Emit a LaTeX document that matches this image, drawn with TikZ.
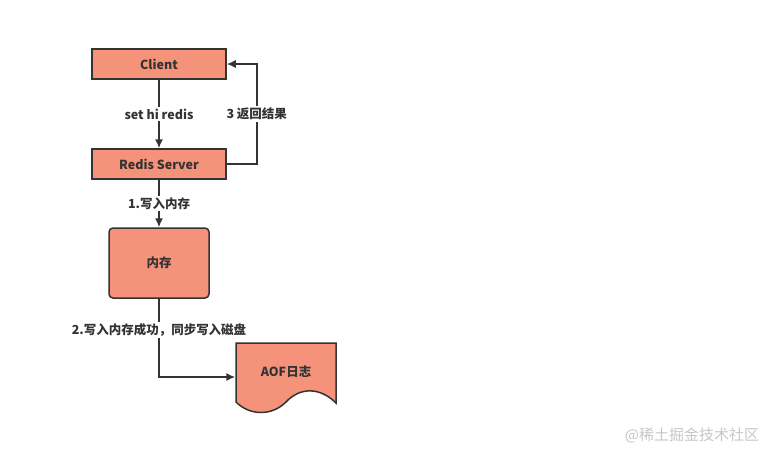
\documentclass[tikz,border=0pt]{standalone}
\usepackage{fontspec}
\setmainfont{Noto Sans CJK SC}
\usetikzlibrary{arrows.meta,positioning}
\definecolor{salmon}{HTML}{F4937A}
\definecolor{ink}{HTML}{333333}

\begin{document}
\begin{tikzpicture}[x=1pt, y=-1pt, node distance={100pt}, line width=1.5pt, draw=ink, text=ink,
        main/.style = {draw=ink, fill=salmon, minimum width=134pt, minimum height=30pt, font=\fontsize{12.5}{14}\selectfont\bfseries},
        mem/.style = {main, rounded corners=4pt, minimum width=100pt, minimum height=70pt},
        lbl/.style = {fill=white, inner sep=2pt, font=\fontsize{12.5}{14}\selectfont\bfseries},
        arr/.style = {-{Latex[length=9pt,width=8pt]}}]
        \fill[white] (0,0) rectangle (780,458);
        \useasboundingbox (0,0) rectangle (780,458);

        \node[main] (1) at (159,64) {Client};
        \node[main] (2) [below of=1] {Redis Server};
        \node[mem] (3) [below of=2, node distance={99pt}] {内存};

        % AOF log as a document shape
        \draw[fill=salmon] (236,343) -- (336,343) -- (336,403) .. controls (320,387) and (300,387) .. (286,402)
            .. controls (272,416) and (250,416) .. (236,402) -- cycle;
        \node[minimum width=100pt, minimum height=60pt, font=\fontsize{12.5}{14}\selectfont\bfseries] (4) at (286,372) {AOF日志};

        \draw[arr] (1) -- (2) node[midway, lbl] {set hi redis};
        \draw[arr] (2.east) -- ++(30,0) |- (1.east) node[pos=0.25, lbl] {3 返回结果};
        \draw[arr] (2) -- (3) node[midway, lbl] {1.写入内存};
        \draw[arr] (3.south) |- ([yshift=-5pt]4.west) node[pos=0.2, lbl] {2.写入内存成功，同步写入磁盘};

        \node[text=black!22, font=\fontsize{15}{17}\selectfont] (wm) at (692,435) {@稀土掘金技术社区};
\end{tikzpicture}
\end{document}
